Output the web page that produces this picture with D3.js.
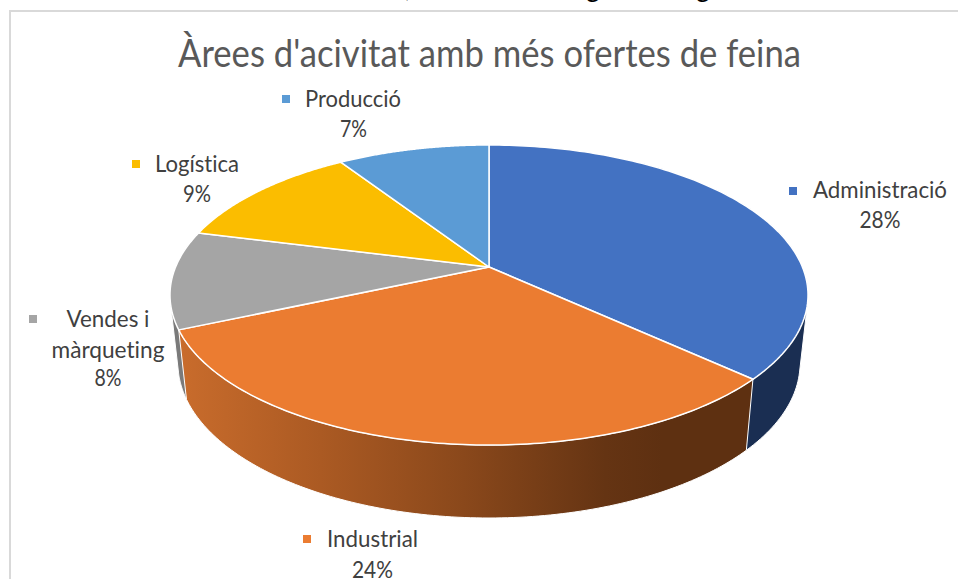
<!DOCTYPE html>
<html>
<head>
<meta charset="utf-8">
<script src="https://cdn.jsdelivr.net/npm/d3@7"></script>
<style>html,body{margin:0;padding:0;background:#fff;overflow:hidden}svg{display:block}text{font-family:Lato,"Open Sans",sans-serif;font-variant-ligatures:none}</style>
</head>
<body>
<div id="chart"></div>
<script>
const titleText = "Àrees d'acivitat amb més ofertes de feina";
const categories = ["Administració", "Industrial", "Vendes i màrqueting", "Logística", "Producció"];
const values = [28, 24, 8, 9, 7];
const topColors = ["#4372C2", "#EB7C31", "#A5A5A5", "#FBBD00", "#5B9BD5"];
const wallColors = ["#1A2E52", "url(#indWall)", "#7A7A7A", "#8F6C00", "#2F5F8F"];
// label layout: marker position and, per line: text, centre x, baseline y, width
const labelLayout = [
  {mx:789, my:187, lines:[["Administració",880,198,134],["28%",880,228,41]]},
  {mx:303, my:535, lines:[["Industrial",372.5,547,91],["24%",372.5,578,41]]},
  {mx:29,  my:315, lines:[["Vendes i",108,327,83],["màrqueting",108,358,113],["8%",108,386,27]]},
  {mx:132, my:160, lines:[["Logística",197,172,84],["9%",197,202,28]]},
  {mx:282, my:95,  lines:[["Producció",353,107,96],["7%",353.5,137,27]]}
];

const W = 958, H = 579;
const svg = d3.select("#chart").append("svg").attr("width", W).attr("height", H);

const defs = svg.append("defs");
const grad = defs.append("linearGradient").attr("id","indWall")
  .attr("gradientUnits","userSpaceOnUse").attr("x1",178).attr("x2",748).attr("y1",0).attr("y2",0);
[[0,"#C96C2C"],[0.25,"#AB5A23"],[0.5,"#8A481B"],[0.75,"#653413"],[0.85,"#5E3011"],[1,"#5E3011"]]
  .forEach(([o,c]) => grad.append("stop").attr("offset",o).attr("stop-color",c));

// frame
svg.append("path").attr("d",`M10,${H}V11H${W}`).attr("fill","none").attr("stroke","#D9D9D9").attr("stroke-width",2);

// cropped line of the page text above the chart
svg.selectAll("text.frag").data([[408,","],[593,"g"],[703,"g"]]).join("text").attr("class","frag")
  .attr("x",d=>d[0]).attr("y",-3.5).attr("text-anchor","middle").attr("font-size",26).attr("fill","#000").text(d=>d[1]);

// perspective pie
const cx = 489, cy = 267, A = 144.8, B = 313.4, k = 0.1867, shrink = 0.975;
const xScale = d3.scaleLinear().domain([-1,1]).range([cx-B, cx+B]);
const yScale = d3.scaleLinear().domain([-1,1]).range([cy+A, cy-A]);
function project(theta){
  const x = Math.sin(theta), y = Math.cos(theta), w = 1 + k*y;
  return [xScale(x/w), yScale(y/w)];
}
function projectLow(theta){
  const p = project(theta);
  return [cx + (p[0]-cx)*shrink, p[1] + 71 + 0.03*(p[1]-380)];
}
const line = d3.line();
const arcs = d3.pie().sort(null).value(d=>d)(values);
const samples = (a,b) => d3.range(0,121).map(i => a + (b-a)*i/120);

const gWalls = svg.append("g"), gTop = svg.append("g");
// walls, back to front; the hull fills the silhouette between both rims
[2,0,1].forEach(i => {
  const s = samples(arcs[i].startAngle, arcs[i].endAngle);
  const hull = d3.polygonHull(s.map(t=>project(t)).concat(s.map(projectLow)));
  gWalls.append("path")
    .attr("d", line(hull) + "Z")
    .attr("fill", wallColors[i]).attr("stroke","#fff").attr("stroke-width",1);
});
// Industrial wall follows both rims exactly, so it is not a hull
gWalls.selectAll("path").filter((d,j)=>j===2).each(function(){
  const s = samples(arcs[1].startAngle, arcs[1].endAngle);
  d3.select(this).attr("d", line(s.map(t=>project(t)).concat(s.slice().reverse().map(projectLow))) + "Z");
});
// caps
arcs.forEach((a,i) => {
  const pts = [[cx,cy]].concat(samples(a.startAngle,a.endAngle).map(t=>project(t)));
  gTop.append("path").attr("d", line(pts)+"Z").attr("fill",topColors[i])
    .attr("stroke","#fff").attr("stroke-width",1.5).attr("stroke-linejoin","round");
});

// title
svg.append("text").attr("x",489.5).attr("y",67).attr("text-anchor","middle")
  .attr("font-size",38.5).attr("fill","#595959")
  .attr("textLength",623).attr("lengthAdjust","spacingAndGlyphs").text(titleText);

// labels
labelLayout.forEach((l,i) => {
  svg.append("rect").attr("x",l.mx).attr("y",l.my).attr("width",8).attr("height",8).attr("fill",topColors[i]);
  l.lines.forEach(([t,x,y,w]) => {
    svg.append("text").attr("x",x).attr("y",y).attr("text-anchor","middle")
      .attr("font-size",22.5).attr("fill","#404040")
      .attr("textLength",w).attr("lengthAdjust","spacingAndGlyphs").text(t);
  });
});
</script>
</body>
</html>
